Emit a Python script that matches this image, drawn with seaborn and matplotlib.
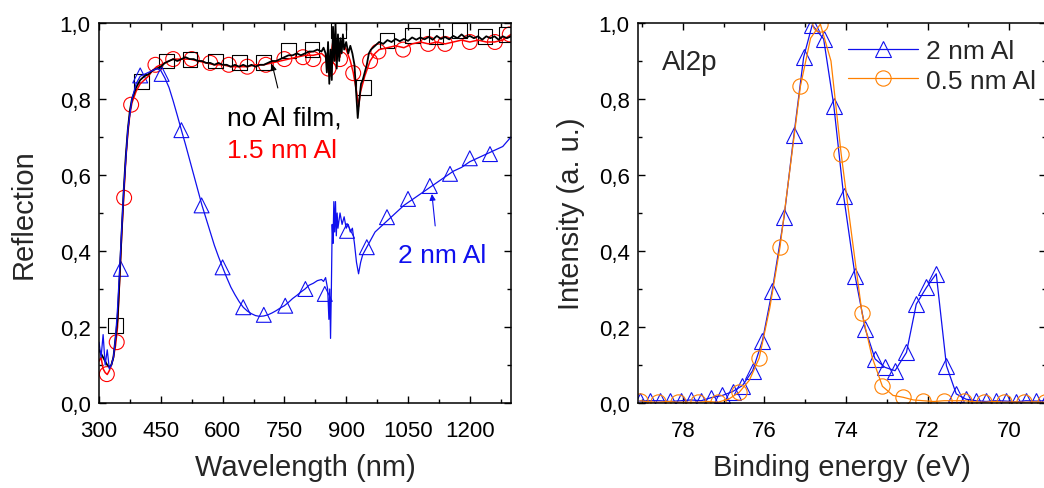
import matplotlib
matplotlib.use("Agg")
import matplotlib.pyplot as plt
import seaborn as sns
from matplotlib.ticker import MultipleLocator, FuncFormatter

# ---- left panel: reflection spectra ----
wl_noal = [300, 305, 310, 315, 320, 325, 330, 335, 340, 345, 350, 355, 360, 365, 370, 375, 380, 390,
           400, 410, 420, 430, 440, 450, 460, 470, 480, 490, 500, 510, 520, 530, 540, 550, 560, 570,
           580, 590, 600, 610, 620, 630, 640, 650, 660, 670, 680, 690, 700, 710, 720, 730, 740, 750,
           760, 770, 780, 790, 800, 810, 820, 830, 840, 845, 850, 853, 856, 859, 862, 865, 868, 871,
           874, 877, 880, 883, 886, 889, 892, 895, 900, 905, 910, 915, 920, 925, 928, 932, 936, 940,
           945, 950, 955, 960, 970, 980, 990, 1000, 1010, 1020, 1030, 1040, 1050, 1060, 1070, 1080,
           1090, 1100, 1110, 1120, 1130, 1140, 1150, 1160, 1170, 1180, 1190, 1200, 1210, 1220, 1230,
           1240, 1250, 1260, 1270, 1280, 1290, 1300]
r_noal = [0.14, 0.13, 0.12, 0.11, 0.10, 0.095, 0.10, 0.12, 0.17, 0.22, 0.33, 0.45, 0.56, 0.65, 0.72,
          0.77, 0.80, 0.83, 0.85, 0.86, 0.865, 0.875, 0.88, 0.885, 0.895, 0.90, 0.905, 0.90, 0.905,
          0.91, 0.905, 0.905, 0.90, 0.90, 0.895, 0.895, 0.89, 0.895, 0.89, 0.89, 0.885, 0.89, 0.885,
          0.89, 0.885, 0.89, 0.885, 0.89, 0.89, 0.895, 0.90, 0.90, 0.905, 0.91, 0.915, 0.915, 0.92,
          0.915, 0.92, 0.925, 0.925, 0.93, 0.925, 0.935, 0.92, 0.87, 0.95, 0.84, 0.93, 0.85, 0.99,
          0.90, 1.0, 0.88, 0.97, 0.90, 0.96, 0.92, 0.97, 0.93, 0.95, 0.92, 0.94, 0.92, 0.89, 0.80,
          0.75, 0.80, 0.84, 0.85, 0.87, 0.89, 0.92, 0.93, 0.94, 0.95, 0.945, 0.955, 0.95, 0.958,
          0.952, 0.958, 0.953, 0.962, 0.956, 0.962, 0.957, 0.963, 0.956, 0.966, 0.958, 0.963, 0.957,
          0.966, 0.96, 0.97, 0.961, 0.966, 0.96, 0.965, 0.956, 0.965, 0.96, 0.965, 0.956, 0.965,
          0.96, 0.965]

wl_15nm = [300, 305, 310, 315, 320, 325, 330, 335, 340, 345, 350, 355, 360, 365, 370, 375, 380, 390,
           400, 410, 420, 430, 440, 450, 460, 470, 480, 500, 520, 540, 560, 580, 600, 620, 640, 660,
           680, 700, 720, 740, 760, 780, 800, 820, 840, 850, 855, 860, 865, 870, 875, 880, 885, 890,
           900, 910, 917, 925, 930, 935, 945, 958, 970, 980, 1000, 1020, 1040, 1060, 1080, 1100, 1120,
           1140, 1160, 1180, 1200, 1220, 1240, 1260, 1280, 1300]
r_15nm = [0.11, 0.12, 0.09, 0.08, 0.075, 0.085, 0.10, 0.12, 0.15, 0.20, 0.32, 0.44, 0.54, 0.64, 0.71,
          0.76, 0.79, 0.82, 0.84, 0.85, 0.86, 0.875, 0.885, 0.89, 0.895, 0.90, 0.905, 0.905, 0.905,
          0.90, 0.895, 0.89, 0.89, 0.885, 0.885, 0.885, 0.89, 0.89, 0.895, 0.90, 0.905, 0.91, 0.915,
          0.915, 0.92, 0.91, 0.88, 0.86, 0.93, 0.97, 0.90, 0.96, 0.91, 0.95, 0.93, 0.90, 0.87, 0.82,
          0.78, 0.82, 0.86, 0.90, 0.92, 0.93, 0.935, 0.94, 0.935, 0.945, 0.95, 0.945, 0.95, 0.945,
          0.95, 0.955, 0.95, 0.955, 0.95, 0.95, 0.955, 0.97]

wl_2nm = [300, 305, 310, 315, 320, 325, 330, 335, 340, 345, 350, 360, 370, 380, 390, 400, 420, 440,
          450, 460, 470, 480, 490, 500, 510, 520, 530, 540, 550, 560, 570, 580, 590, 600, 610, 620,
          630, 640, 650, 660, 670, 680, 690, 700, 710, 720, 730, 740, 750, 760, 770, 780, 790, 800,
          810, 820, 830, 840, 845, 850, 855, 858, 860, 862, 864, 866, 868, 870, 872, 874, 876, 878,
          880, 885, 890, 895, 900, 905, 910, 915, 920, 925, 930, 935, 940, 950, 960, 970, 980, 990,
          1000, 1020, 1040, 1060, 1080, 1100, 1120, 1140, 1160, 1180, 1200, 1220, 1240, 1260, 1280,
          1300]
r_2nm = [0.16, 0.12, 0.18, 0.10, 0.14, 0.09, 0.10, 0.12, 0.17, 0.25, 0.35, 0.56, 0.72, 0.80, 0.84,
         0.86, 0.87, 0.88, 0.875, 0.855, 0.83, 0.795, 0.757, 0.718, 0.68, 0.64, 0.60, 0.56, 0.52,
         0.485, 0.45, 0.415, 0.385, 0.357, 0.33, 0.305, 0.285, 0.267, 0.252, 0.242, 0.235, 0.23,
         0.228, 0.229, 0.232, 0.237, 0.243, 0.25, 0.256, 0.265, 0.275, 0.283, 0.292, 0.30, 0.31,
         0.315, 0.322, 0.325, 0.32, 0.33, 0.30, 0.22, 0.30, 0.17, 0.30, 0.47, 0.42, 0.53, 0.45, 0.53,
         0.44, 0.50, 0.46, 0.50, 0.47, 0.49, 0.46, 0.47, 0.45, 0.46, 0.42, 0.37, 0.34, 0.37, 0.39,
         0.41, 0.43, 0.45, 0.46, 0.47, 0.48, 0.50, 0.52, 0.535, 0.55, 0.565, 0.58, 0.595, 0.61,
         0.62, 0.635, 0.645, 0.655, 0.665, 0.675, 0.70]

sq_wl = [341, 403, 464, 521, 582, 641, 700, 759, 817, 881, 941, 999, 1060, 1118, 1176, 1237, 1290]
sq_r = [0.203, 0.845, 0.90, 0.905, 0.90, 0.897, 0.895, 0.927, 0.93, 0.98, 0.83, 0.955, 0.967, 0.965,
        0.98, 0.965, 0.97]
ci_wl = [319, 343, 361, 378, 437, 480, 525, 570, 615, 660, 705, 750, 795, 820, 857, 885, 917, 958,
         978, 1038, 1099, 1140, 1200, 1261, 1297]
ci_r = [0.076, 0.16, 0.54, 0.785, 0.89, 0.905, 0.905, 0.895, 0.89, 0.885, 0.89, 0.905, 0.91, 0.905,
        0.88, 0.905, 0.868, 0.90, 0.925, 0.93, 0.945, 0.945, 0.95, 0.95, 0.97]
tr_wl = [353, 400, 452, 500, 549, 600, 650, 700, 752, 801, 848, 902, 950, 999, 1050, 1103, 1152,
         1200, 1249]
tr_r = [0.353, 0.862, 0.866, 0.718, 0.52, 0.357, 0.252, 0.232, 0.256, 0.30, 0.287, 0.453, 0.41,
        0.489, 0.537, 0.571, 0.603, 0.644, 0.655]

# ---- right panel: Al2p XPS ----
be_2nm = [79.06, 78.81, 78.57, 78.32, 78.04, 77.80, 77.55, 77.31, 77.03, 76.78, 76.54, 76.29, 76.05,
          75.81, 75.52, 75.28, 75.04, 74.83, 74.55, 74.30, 74.06, 73.78, 73.53, 73.29, 73.05, 72.80,
          72.52, 72.28, 72.03, 71.79, 71.54, 71.30, 71.06, 70.81, 70.57, 70.32, 70.08, 69.83, 69.59,
          69.34, 69.10]
int_2nm = [0.005, 0.006, 0.006, 0.004, 0.006, 0.008, 0.006, 0.014, 0.02, 0.03, 0.046, 0.085, 0.164,
           0.296, 0.489, 0.704, 0.91, 0.995, 0.958, 0.782, 0.545, 0.335, 0.195, 0.116, 0.094, 0.085,
           0.133, 0.26, 0.304, 0.34, 0.098, 0.024, 0.01, 0.006, 0.004, 0.006, 0.005, 0.003, 0.006,
           0.005, 0.006]
be_05nm = [79.05, 78.83, 78.61, 78.37, 78.12, 77.88, 77.63, 77.39, 77.15, 76.88, 76.62, 76.37, 76.13,
           75.87, 75.62, 75.37, 75.12, 74.87, 74.63, 74.37, 74.12, 73.86, 73.61, 73.36, 73.11, 72.85,
           72.60, 72.35, 72.11, 71.85, 71.60, 71.35, 71.10, 70.85, 70.61, 70.36, 70.12, 69.87, 69.63,
           69.38, 69.13]
int_05nm = [0.006, 0.003, 0.002, 0.004, 0.002, 0.002, 0.002, 0.004, 0.002, 0.01, 0.028, 0.06, 0.118,
            0.25, 0.41, 0.62, 0.833, 0.96, 0.997, 0.90, 0.655, 0.44, 0.237, 0.12, 0.044, 0.02, 0.015,
            0.008, 0.006, 0.004, 0.006, 0.006, 0.006, 0.003, 0.002, 0.004, 0.002, 0.003, 0.002,
            0.003, 0.002]

BLUE = "#1010ee"
RED = "#ff0000"
ORANGE = "#ff8000"

sns.set_theme(style="ticks")
plt.rcParams["font.family"] = ["Liberation Sans", "DejaVu Sans"]
plt.rcParams["axes.linewidth"] = 1.1

fig = plt.figure(figsize=(10.44, 4.89), dpi=100)
ax1 = fig.add_axes([99 / 1044, 85 / 489, 412 / 1044, 380 / 489])
ax2 = fig.add_axes([638 / 1044, 85 / 489, 408 / 1044, 380 / 489])

comma = FuncFormatter(lambda v, p: f"{v:.1f}".replace(".", ","))

# left panel
sns.lineplot(x=wl_15nm, y=r_15nm, ax=ax1, color=RED, lw=1.1)
sns.lineplot(x=wl_noal, y=r_noal, ax=ax1, color="black", lw=1.3)
sns.lineplot(x=wl_2nm, y=r_2nm, ax=ax1, color=BLUE, lw=0.9)
sns.scatterplot(x=ci_wl, y=ci_r, ax=ax1, marker="o", s=115, facecolor="none", edgecolor=RED, linewidth=0.8)
sns.scatterplot(x=sq_wl, y=sq_r, ax=ax1, marker="s", s=115, facecolor="none", edgecolor="black", linewidth=0.8)
sns.scatterplot(x=tr_wl, y=tr_r, ax=ax1, marker="^", s=115, facecolor="none", edgecolor=BLUE, linewidth=0.8)

ax1.set_xlim(300, 1300)
ax1.set_ylim(0, 1.0)
ax1.xaxis.set_major_locator(MultipleLocator(150))
ax1.xaxis.set_minor_locator(MultipleLocator(75))
ax1.set_xlabel("Wavelength (nm)", fontsize=21, labelpad=9)
ax1.set_ylabel("Reflection", fontsize=21, labelpad=16)

arrow = dict(arrowstyle="-|>", lw=0.8, mutation_scale=9, shrinkA=0, shrinkB=0)
ax1.annotate("", xy=(720, 0.892), xytext=(734, 0.829), arrowprops=dict(arrow, color="black"))
ax1.annotate("", xy=(1108, 0.55), xytext=(1116, 0.466), arrowprops=dict(arrow, color=BLUE))
ax1.text(611, 0.734, "no Al film,", fontsize=19, color="black", va="baseline")
ax1.text(611, 0.647, "1.5 nm Al", fontsize=19, color=RED, va="baseline")
ax1.text(1026, 0.371, "2 nm Al", fontsize=19, color=BLUE, va="baseline")

# right panel
sns.lineplot(x=be_2nm, y=int_2nm, ax=ax2, color=BLUE, lw=0.9, marker="^", markersize=11,
             markerfacecolor="none", markeredgecolor=BLUE, markeredgewidth=0.8, label="2 nm Al")
sns.lineplot(x=be_05nm, y=int_05nm, ax=ax2, color=ORANGE, lw=0.9, marker="o", markersize=11,
             markerfacecolor="none", markeredgecolor=ORANGE, markeredgewidth=0.8, markevery=2,
             label="0.5 nm Al")

ax2.set_xlim(79.1, 69.1)
ax2.set_ylim(0, 1.0)
ax2.xaxis.set_major_locator(MultipleLocator(2))
ax2.xaxis.set_minor_locator(MultipleLocator(1))
ax2.set_xlabel("Binding energy (eV)", fontsize=21, labelpad=9)
ax2.set_ylabel("Intensity (a. u.)", fontsize=21, labelpad=10)
ax2.text(0.058, 0.879, "Al2p", transform=ax2.transAxes, fontsize=20, va="baseline")
ax2.legend(loc="upper left", bbox_to_anchor=(0.49, 0.985), frameon=False, fontsize=19,
           handlelength=2.65, handletextpad=0.3, labelspacing=0.2, borderaxespad=0)

for ax in (ax1, ax2):
    ax.yaxis.set_major_locator(MultipleLocator(0.2))
    ax.yaxis.set_minor_locator(MultipleLocator(0.1))
    ax.yaxis.set_major_formatter(comma)
    ax.tick_params(which="both", direction="in", top=True, right=True, width=1.0, colors="black")
    ax.tick_params(which="major", length=5, labelsize=16, pad=6)
    ax.tick_params(axis="x", which="major", pad=12)
    ax.tick_params(which="minor", length=3)
    for sp in ax.spines.values():
        sp.set_color("black")

fig.savefig("out.png", dpi=100)
